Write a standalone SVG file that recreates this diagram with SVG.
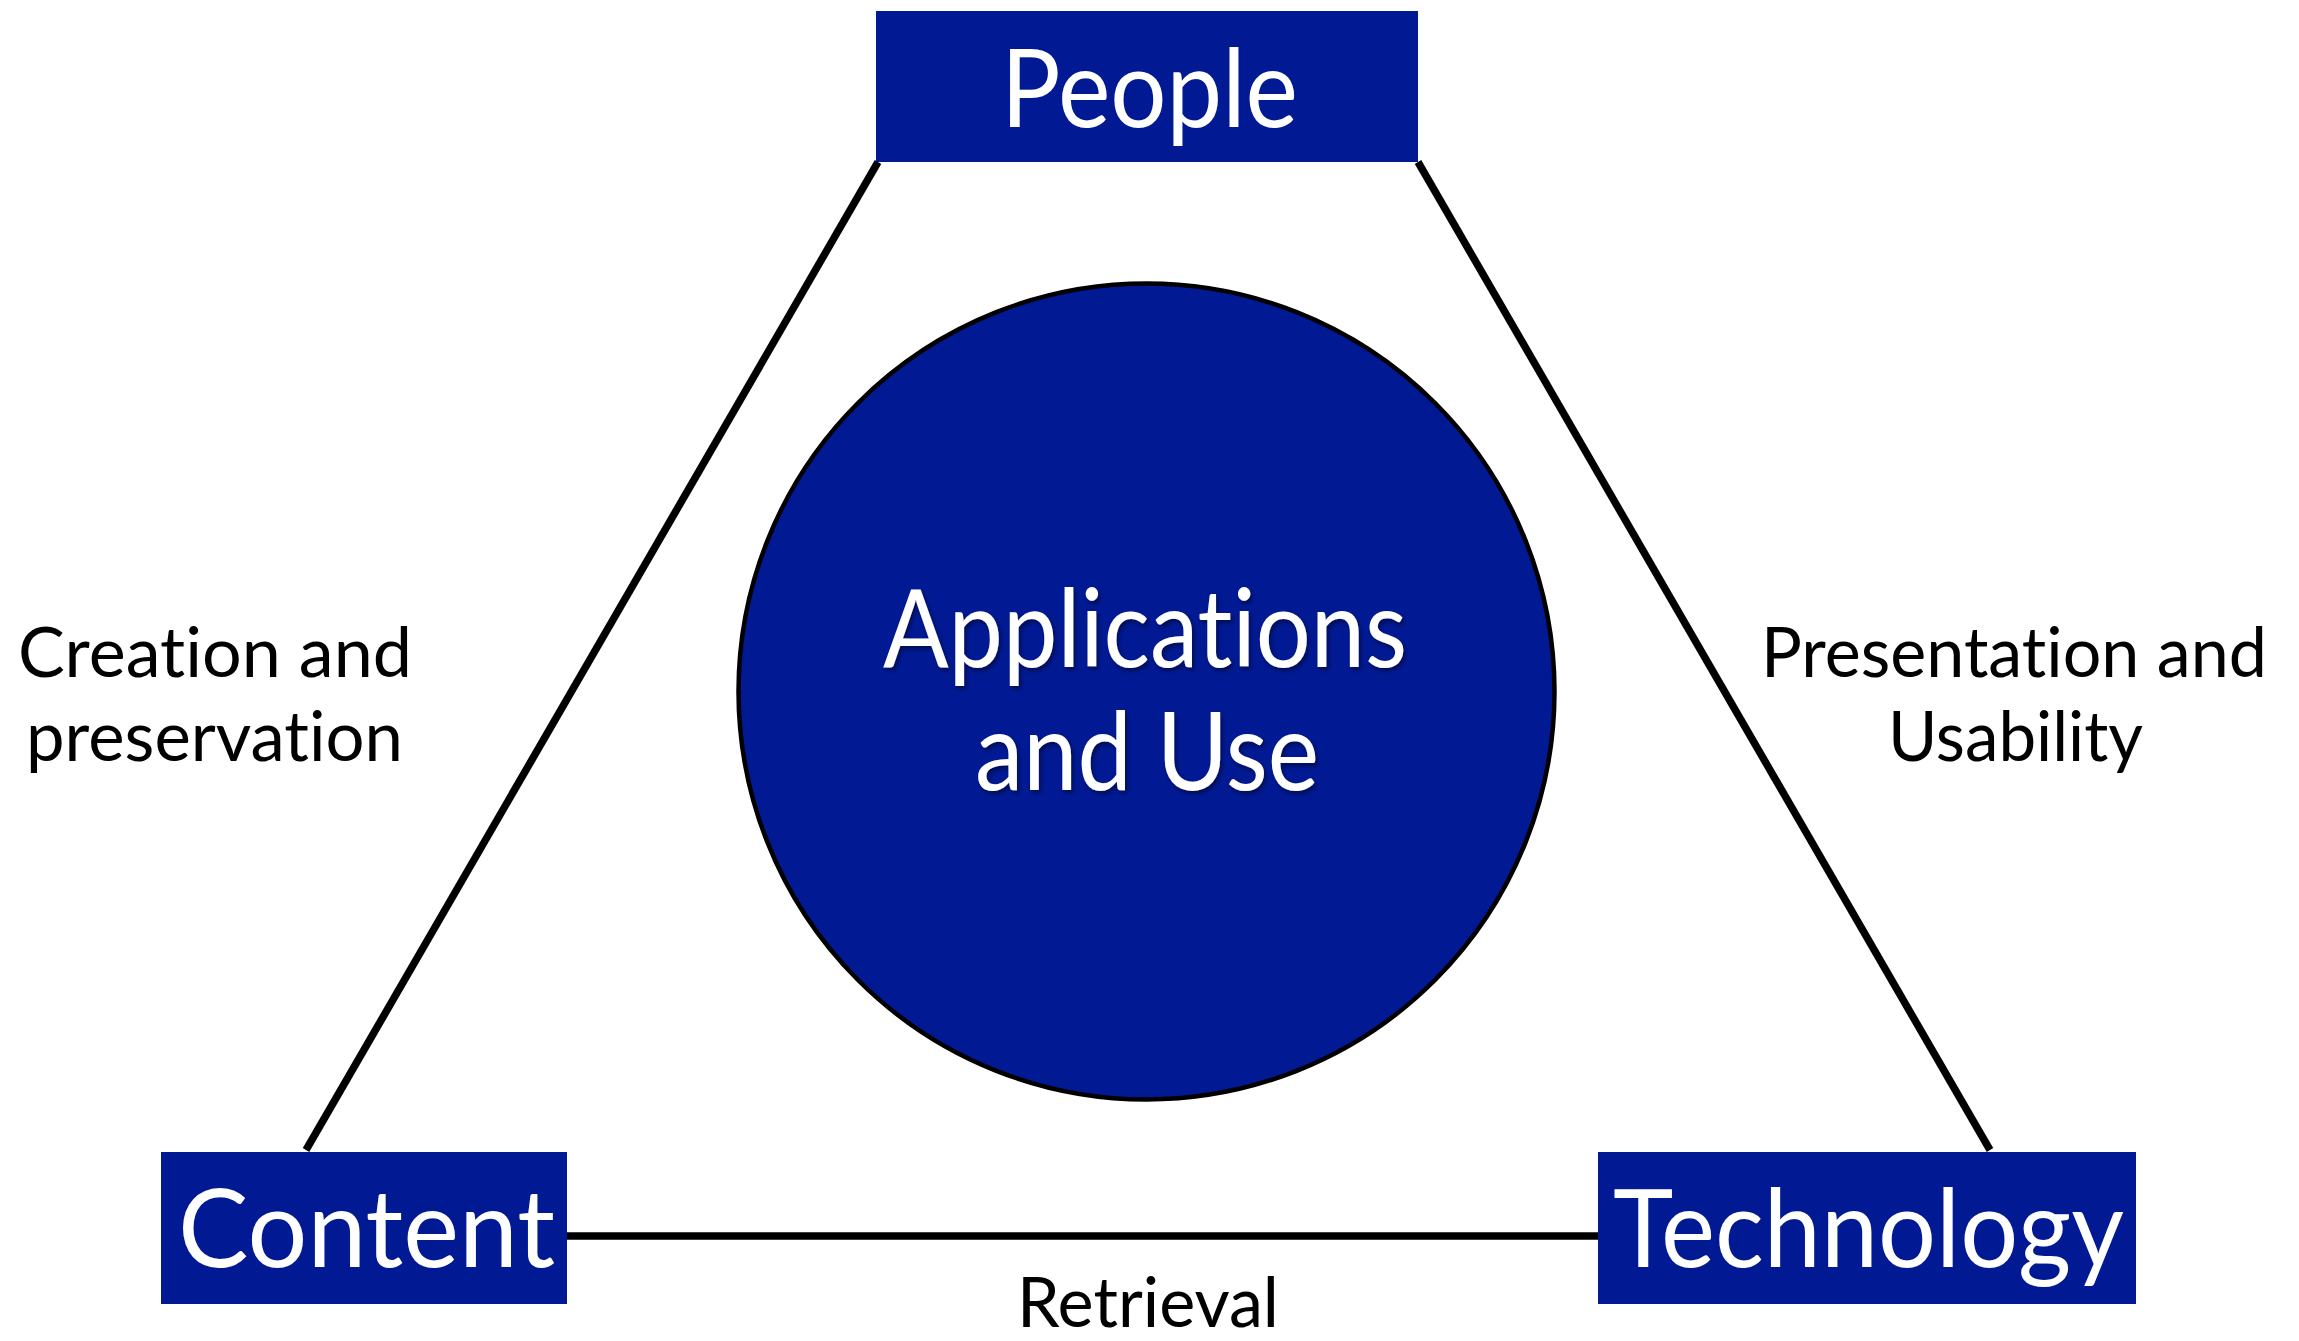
<svg xmlns="http://www.w3.org/2000/svg" width="2299" height="1341" viewBox="0 0 2299 1341">
<style>
text{font-variant-ligatures:none;font-feature-settings:"liga" 0,"clig" 0,"dlig" 0;}
.box{fill:#011993;}
.big{font-family:Lato,"Open Sans","Liberation Sans",sans-serif;fill:#ffffff;font-size:108px;}
.lbl{font-family:Lato,"Open Sans","Liberation Sans",sans-serif;fill:#000000;font-size:70px;}
.conn{stroke:#000000;stroke-width:7.5;fill:none;}
</style>
<defs>
<filter id="sh" x="-10%" y="-10%" width="120%" height="130%">
<feDropShadow dx="2" dy="3" stdDeviation="2" flood-color="#000000" flood-opacity="0.45"/>
</filter>
</defs>
<rect width="2299" height="1341" fill="#ffffff"/>
<g id="connectors">
<line class="conn" x1="878" y1="162" x2="306" y2="1150"/>
<line class="conn" x1="1418" y1="162" x2="1990" y2="1150"/>
<line class="conn" x1="566" y1="1236" x2="1599" y2="1236"/>
</g>
<g id="center">
<circle cx="1146.5" cy="691.5" r="408" fill="#011993" stroke="#000000" stroke-width="4.5"/>
<g filter="url(#sh)">
<text class="big" x="883" y="667" textLength="524" lengthAdjust="spacingAndGlyphs" font-size="103">Applications</text>
<text class="big" x="975" y="790" textLength="344" lengthAdjust="spacingAndGlyphs" font-size="103">and Use</text>
</g>
</g>
<g id="people">
<rect class="box" x="876" y="11" width="542" height="151"/>
<text class="big" x="1001" y="127" textLength="297" lengthAdjust="spacingAndGlyphs">People</text>
</g>
<g id="content">
<rect class="box" x="161" y="1152" width="406" height="152"/>
<text class="big" x="178" y="1267" textLength="377" lengthAdjust="spacingAndGlyphs">Content</text>
</g>
<g id="technology">
<rect class="box" x="1598" y="1152" width="538" height="152"/>
<text class="big" x="1613" y="1267" textLength="511" lengthAdjust="spacingAndGlyphs">Technology</text>
</g>
<g id="labels">
<text class="lbl" x="18" y="677" textLength="394" lengthAdjust="spacingAndGlyphs">Creation and</text>
<text class="lbl" x="26" y="761" textLength="377" lengthAdjust="spacingAndGlyphs">preservation</text>
<text class="lbl" x="1761" y="677" textLength="506" lengthAdjust="spacingAndGlyphs">Presentation and</text>
<text class="lbl" x="1888" y="761" textLength="255" lengthAdjust="spacingAndGlyphs">Usability</text>
<text class="lbl" x="1017" y="1327" textLength="262" lengthAdjust="spacingAndGlyphs">Retrieval</text>
</g>
</svg>
